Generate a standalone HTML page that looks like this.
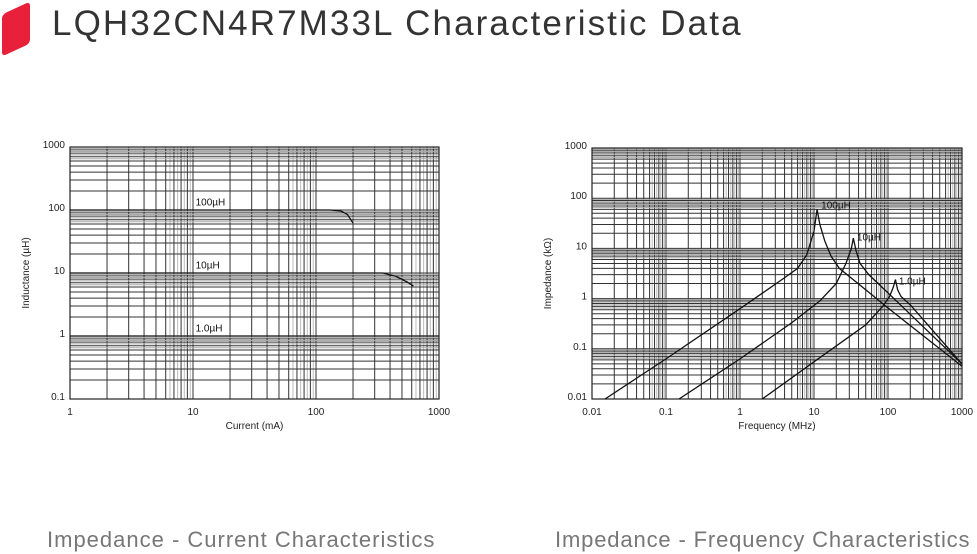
<!DOCTYPE html>
<html><head><meta charset="utf-8"><style>
body{margin:0;width:977px;height:554px;background:#fff;overflow:hidden;font-family:"Liberation Sans",sans-serif;position:relative}
#title{position:absolute;left:52px;top:4px;font-size:35px;color:#333;letter-spacing:2.1px}
#icon{position:absolute;left:2px;top:8px;width:28px;height:42px;background:#e8203a;transform:skewY(-25deg);border-radius:4px}
.cap{position:absolute;top:527px;font-size:22px;color:#777}
svg{position:absolute;left:0;top:0}
</style></head><body>
<div id="icon"></div>
<div id="title">LQH32CN4R7M33L Characteristic Data</div>
<div class="cap" style="left:47px;letter-spacing:1px">Impedance - Current Characteristics</div>
<div class="cap" style="left:555px;letter-spacing:0.85px">Impedance - Frequency Characteristics</div>
<svg id="s" width="977" height="554"></svg>
<script>
// Left chart data
const leftXTicks=["1","10","100","1000"];
const leftYTicks=["0.1","1","10","100","1000"];
const ind100=[[1,100],[130,100],[160,96],[180,85],[200,62]];
const ind10=[[1,10],[350,10],[450,8.8],[550,7.2],[620,6.2]];
const ind1=[[1,1],[1000,1]];
const leftLabels=[["100µH",10.5,118],["10µH",10.5,11.8],["1.0µH",10.5,1.18]];
// Right chart data
const rightXTicks=["0.01","0.1","1","10","100","1000"];
const rightYTicks=["0.01","0.1","1","10","100","1000"];
const z100=[[0.015,0.01],[0.1,0.063],[1,0.63],[4,2.6],[6,4],[8,7.5],[10,22],[11,60],[12,30],[14,14],[17,7],[22,4],[50,1.5],[100,0.65],[1000,0.045]];
const z10=[[0.15,0.01],[1,0.063],[5,0.33],[12,0.9],[20,2],[27,5],[32,10],[34,16],[37,9],[42,5],[55,3],[100,1.3],[1000,0.05]];
const z1=[[2,0.01],[10,0.055],[50,0.3],[85,0.7],[105,1.1],[118,1.7],[126,2.4],[135,1.5],[150,1.1],[200,0.75],[1000,0.05]];
const rightLabels=[["100µH",12.5,62],["10µH",38,14.5],["1.0µH",140,1.9]];

const NS="http://www.w3.org/2000/svg";
const S=document.getElementById('s');
function el(t,a,p){const e=document.createElementNS(NS,t);for(const k in a)e.setAttribute(k,a[k]);(p||S).appendChild(e);return e;}

function chart(cfg){
 const {x0,x1,y0,y1,xmin,xdec,ymin,ydec}=cfg;
 const sx=v=>x0+(Math.log10(v)-Math.log10(xmin))/xdec*(x1-x0);
 const sy=v=>y1-(Math.log10(v)-Math.log10(ymin))/ydec*(y1-y0);
 const g=el('g',{});
 
 
 for(let d=0;d<xdec;d++){for(let m=1;m<10;m++){const v=xmin*Math.pow(10,d)*m;const x=sx(v);
   el('line',{x1:x,x2:x,y1:y0,y2:y1,stroke:'#333','stroke-width':1},g);
   if(m>=6){const xh=sx(v*(m+0.5)/m); el('line',{x1:xh,x2:xh,y1:y0,y2:y1,stroke:'#bbb','stroke-width':1},g);}}}
 for(let d=0;d<ydec;d++){for(let m=1;m<10;m++){const v=ymin*Math.pow(10,d)*m;const y=sy(v);
   el('line',{x1:x0,x2:x1,y1:y,y2:y,stroke:'#333','stroke-width':1},g);
   if(m>=6){const yh=sy(v*(m+0.5)/m); el('line',{x1:x0,x2:x1,y1:yh,y2:yh,stroke:'#aaa','stroke-width':1},g);}}}
 el('rect',{x:x0,y:y0,width:x1-x0,height:y1-y0,fill:'none',stroke:'#222','stroke-width':1.2},g);
 cfg.xt.forEach((t,i)=>{const tx=el('text',{x:x0+i*(x1-x0)/xdec,y:y1+16,'font-size':10,'text-anchor':'middle',fill:'#222'},g);tx.textContent=t;
   });
 cfg.yt.forEach((t,i)=>{const tx=el('text',{x:x0-5,y:y1-i*(y1-y0)/ydec+1,'font-size':10,'text-anchor':'end',fill:'#222'},g);tx.textContent=t;
   });
 const xt=el('text',{x:(x0+x1)/2,y:y1+30,'font-size':10,'text-anchor':'middle',fill:'#222'},g);xt.textContent=cfg.xl;
 
 const yt=el('text',{x:0,y:0,'font-size':10,'text-anchor':'middle',fill:'#222',transform:`translate(${x0-41},${(y0+y1)/2}) rotate(-90)`},g);yt.textContent=cfg.yl;
 
 cfg.series.forEach((s,i)=>{const p=el('polyline',{points:s.map(q=>sx(q[0])+','+sy(q[1])).join(' '),fill:'none',stroke:'#111','stroke-width':1.3},g);
   });
 cfg.labels.forEach(l=>{const b=el('text',{x:sx(l[1]),y:sy(l[2]),'font-size':10,fill:'#111'},g);b.textContent=l[0];
   });
}
chart({name:'inductance-current-chart',x0:70,x1:439,y0:147,y1:399,xmin:1,xdec:3,ymin:0.1,ydec:4,xt:leftXTicks,yt:leftYTicks,xl:'Current (mA)',yl:'Inductance (µH)',series:[ind100,ind10,ind1],labels:leftLabels});
chart({name:'impedance-frequency-chart',x0:592,x1:962,y0:148,y1:399,xmin:0.01,xdec:5,ymin:0.01,ydec:5,xt:rightXTicks,yt:rightYTicks,xl:'Frequency (MHz)',yl:'Impedance (kΩ)',series:[z100,z10,z1],labels:rightLabels});
</script>
</body></html>
